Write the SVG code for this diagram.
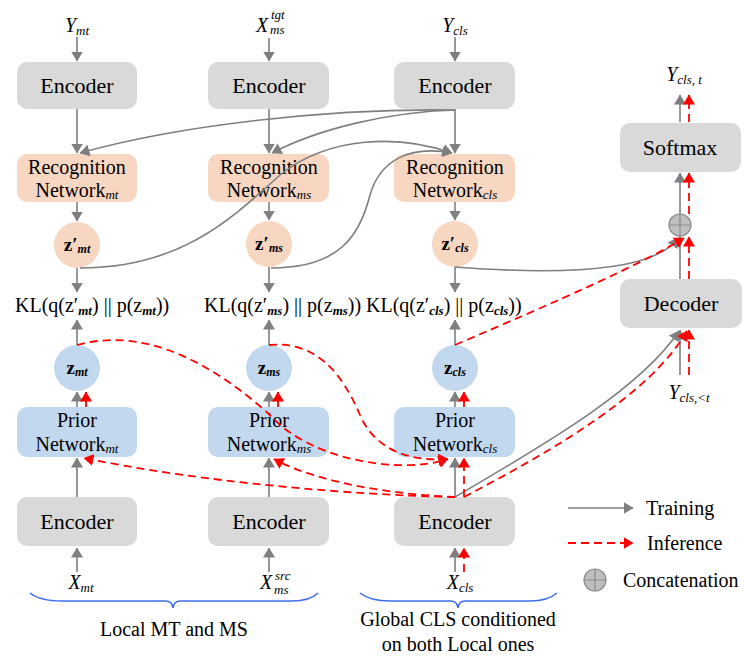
<svg xmlns="http://www.w3.org/2000/svg" width="744" height="657" viewBox="0 0 744 657">
<defs>
<marker id="ag" viewBox="0 0 10 12" refX="9.5" refY="6" markerWidth="10" markerHeight="12" markerUnits="userSpaceOnUse" orient="auto"><path d="M0,0 L10,6 L0,12 z" fill="#7f7f7f"/></marker>
<marker id="ar" viewBox="0 0 10 12" refX="9.5" refY="6" markerWidth="10" markerHeight="12" markerUnits="userSpaceOnUse" orient="auto"><path d="M0,0 L10,6 L0,12 z" fill="#ff0000"/></marker>
</defs>
<rect width="744" height="657" fill="#ffffff"/>

<!-- input labels -->
<text font-family="Times New Roman, Liberation Serif, serif" font-size="20" font-style="italic" x="77" y="32" text-anchor="middle">Y<tspan font-size="13" dy="3">mt</tspan></text>
<text font-family="Times New Roman, Liberation Serif, serif" font-size="20" font-style="italic" x="256" y="32">X<tspan font-size="13" x="271" y="19">tgt</tspan><tspan font-size="13" x="270" y="34">ms</tspan></text>
<text font-family="Times New Roman, Liberation Serif, serif" font-size="20" font-style="italic" x="455" y="32" text-anchor="middle">Y<tspan font-size="13" dy="3">cls</tspan></text>

<!-- top encoders -->
<g id="enc_top_mt"><rect fill="#d9d9d9" x="17" y="62" width="120" height="47" rx="10"/><text font-family="Times New Roman, Liberation Serif, serif" font-size="22" x="77" y="93" text-anchor="middle">Encoder</text></g>
<g id="enc_top_ms"><rect fill="#d9d9d9" x="208" y="62" width="121" height="47" rx="10"/><text font-family="Times New Roman, Liberation Serif, serif" font-size="22" x="269" y="93" text-anchor="middle">Encoder</text></g>
<g id="enc_top_cls"><rect fill="#d9d9d9" x="394" y="62" width="121" height="47" rx="10"/><text font-family="Times New Roman, Liberation Serif, serif" font-size="22" x="455" y="93" text-anchor="middle">Encoder</text></g>

<!-- recognition networks -->
<g id="rec_mt"><rect fill="#f7d6c2" x="17" y="154" width="120" height="48" rx="10"/><text font-family="Times New Roman, Liberation Serif, serif" font-size="20" x="77" y="174" text-anchor="middle">Recognition</text><text font-family="Times New Roman, Liberation Serif, serif" font-size="20" x="77" y="197" text-anchor="middle">Network<tspan font-size="13" font-style="italic" dy="2">mt</tspan></text></g>
<g id="rec_ms"><rect fill="#f7d6c2" x="208" y="154" width="121" height="48" rx="10"/><text font-family="Times New Roman, Liberation Serif, serif" font-size="20" x="269" y="174" text-anchor="middle">Recognition</text><text font-family="Times New Roman, Liberation Serif, serif" font-size="20" x="269" y="197" text-anchor="middle">Network<tspan font-size="13" font-style="italic" dy="2">ms</tspan></text></g>
<g id="rec_cls"><rect fill="#f7d6c2" x="394" y="154" width="121" height="48" rx="10"/><text font-family="Times New Roman, Liberation Serif, serif" font-size="20" x="455" y="174" text-anchor="middle">Recognition</text><text font-family="Times New Roman, Liberation Serif, serif" font-size="20" x="455" y="197" text-anchor="middle">Network<tspan font-size="13" font-style="italic" dy="2">cls</tspan></text></g>

<!-- z' circles -->
<g id="zp_mt"><circle cx="77" cy="245" r="23" fill="#f7d6c2"/><text font-family="Times New Roman, Liberation Serif, serif" font-size="19" font-weight="bold" x="77" y="251" text-anchor="middle">z′<tspan font-size="12" font-style="italic" dy="2">mt</tspan></text></g>
<g id="zp_ms"><circle cx="269" cy="244" r="23" fill="#f7d6c2"/><text font-family="Times New Roman, Liberation Serif, serif" font-size="19" font-weight="bold" x="269" y="250" text-anchor="middle">z′<tspan font-size="12" font-style="italic" dy="2">ms</tspan></text></g>
<g id="zp_cls"><circle cx="455" cy="244" r="23" fill="#f7d6c2"/><text font-family="Times New Roman, Liberation Serif, serif" font-size="19" font-weight="bold" x="455" y="250" text-anchor="middle">z′<tspan font-size="12" font-style="italic" dy="2">cls</tspan></text></g>

<!-- KL terms -->
<g id="kl_mt"><text font-family="Times New Roman, Liberation Serif, serif" font-size="20" x="15" y="312">KL(q(z′<tspan font-size="13" font-style="italic" font-weight="bold" dy="3">mt</tspan><tspan dy="-3">) || p(z</tspan><tspan font-size="13" font-style="italic" font-weight="bold" dy="3">mt</tspan><tspan dy="-3">))</tspan></text></g>
<g id="kl_ms"><text font-family="Times New Roman, Liberation Serif, serif" font-size="20" x="204" y="312">KL(q(z′<tspan font-size="13" font-style="italic" font-weight="bold" dy="3">ms</tspan><tspan dy="-3">) || p(z</tspan><tspan font-size="13" font-style="italic" font-weight="bold" dy="3">ms</tspan><tspan dy="-3">))</tspan></text></g>
<g id="kl_cls"><text font-family="Times New Roman, Liberation Serif, serif" font-size="20" x="366" y="312">KL(q(z′<tspan font-size="13" font-style="italic" font-weight="bold" dy="3">cls</tspan><tspan dy="-3">) || p(z</tspan><tspan font-size="13" font-style="italic" font-weight="bold" dy="3">cls</tspan><tspan dy="-3">))</tspan></text></g>

<!-- z circles -->
<g id="z_mt"><circle cx="77" cy="368" r="23" fill="#c2d8ee"/><text font-family="Times New Roman, Liberation Serif, serif" font-size="19" font-weight="bold" x="77" y="374" text-anchor="middle">z<tspan font-size="12" font-style="italic" dy="2">mt</tspan></text></g>
<g id="z_ms"><circle cx="269" cy="368" r="23" fill="#c2d8ee"/><text font-family="Times New Roman, Liberation Serif, serif" font-size="19" font-weight="bold" x="269" y="374" text-anchor="middle">z<tspan font-size="12" font-style="italic" dy="2">ms</tspan></text></g>
<g id="z_cls"><circle cx="455" cy="368" r="23" fill="#c2d8ee"/><text font-family="Times New Roman, Liberation Serif, serif" font-size="19" font-weight="bold" x="455" y="374" text-anchor="middle">z<tspan font-size="12" font-style="italic" dy="2">cls</tspan></text></g>

<!-- prior networks -->
<g id="prior_mt"><rect fill="#c2d8ee" x="17" y="407" width="120" height="50" rx="10"/><text font-family="Times New Roman, Liberation Serif, serif" font-size="20" x="77" y="427" text-anchor="middle">Prior</text><text font-family="Times New Roman, Liberation Serif, serif" font-size="20" x="77" y="451" text-anchor="middle">Network<tspan font-size="13" font-style="italic" dy="2">mt</tspan></text></g>
<g id="prior_ms"><rect fill="#c2d8ee" x="208" y="407" width="121" height="50" rx="10"/><text font-family="Times New Roman, Liberation Serif, serif" font-size="20" x="269" y="427" text-anchor="middle">Prior</text><text font-family="Times New Roman, Liberation Serif, serif" font-size="20" x="269" y="451" text-anchor="middle">Network<tspan font-size="13" font-style="italic" dy="2">ms</tspan></text></g>
<g id="prior_cls"><rect fill="#c2d8ee" x="394" y="407" width="121" height="50" rx="10"/><text font-family="Times New Roman, Liberation Serif, serif" font-size="20" x="455" y="427" text-anchor="middle">Prior</text><text font-family="Times New Roman, Liberation Serif, serif" font-size="20" x="455" y="451" text-anchor="middle">Network<tspan font-size="13" font-style="italic" dy="2">cls</tspan></text></g>

<!-- bottom encoders -->
<g id="enc_bot_mt"><rect fill="#d9d9d9" x="17" y="497" width="120" height="49" rx="10"/><text font-family="Times New Roman, Liberation Serif, serif" font-size="22" x="77" y="529" text-anchor="middle">Encoder</text></g>
<g id="enc_bot_ms"><rect fill="#d9d9d9" x="208" y="497" width="121" height="49" rx="10"/><text font-family="Times New Roman, Liberation Serif, serif" font-size="22" x="269" y="529" text-anchor="middle">Encoder</text></g>
<g id="enc_bot_cls"><rect fill="#d9d9d9" x="394" y="497" width="121" height="49" rx="10"/><text font-family="Times New Roman, Liberation Serif, serif" font-size="22" x="455" y="529" text-anchor="middle">Encoder</text></g>

<!-- bottom input labels -->
<text font-family="Times New Roman, Liberation Serif, serif" font-size="20" font-style="italic" x="81" y="589" text-anchor="middle">X<tspan font-size="13" dy="3">mt</tspan></text>
<text font-family="Times New Roman, Liberation Serif, serif" font-size="20" font-style="italic" x="260" y="589">X<tspan font-size="13" x="275" y="580">src</tspan><tspan font-size="13" x="274" y="594">ms</tspan></text>
<text font-family="Times New Roman, Liberation Serif, serif" font-size="20" font-style="italic" x="460" y="589" text-anchor="middle">X<tspan font-size="13" dy="3">cls</tspan></text>

<!-- right column -->
<text font-family="Times New Roman, Liberation Serif, serif" font-size="20" font-style="italic" x="684" y="81" text-anchor="middle">Y<tspan font-size="13" dy="3">cls, t</tspan></text>
<g id="softmax"><rect fill="#d9d9d9" x="620" y="123" width="121" height="49" rx="10"/><text font-family="Times New Roman, Liberation Serif, serif" font-size="22" x="680" y="155" text-anchor="middle">Softmax</text></g>
<g id="concat"><circle cx="680" cy="225" r="11" fill="#bfbfbf" stroke="#8c8c8c" stroke-width="1.2"/><path d="M669,225 H691 M680,214 V236" stroke="#8c8c8c" stroke-width="1.2"/></g>
<g id="decoder"><rect fill="#d9d9d9" x="620" y="279" width="122" height="49" rx="10"/><text font-family="Times New Roman, Liberation Serif, serif" font-size="22" x="681" y="311" text-anchor="middle">Decoder</text></g>
<text font-family="Times New Roman, Liberation Serif, serif" font-size="20" font-style="italic" x="689" y="399" text-anchor="middle">Y<tspan font-size="13" dy="3">cls,&lt;t</tspan></text>

<!-- connectors -->
<g id="connectors">
<g fill="none" stroke="#7f7f7f" stroke-width="1.6" marker-end="url(#ag)">
<line x1="77" y1="37" x2="77" y2="61"/>
<line x1="269" y1="38" x2="269" y2="61"/>
<line x1="455" y1="37" x2="455" y2="61"/>
<line x1="77" y1="109" x2="77" y2="153"/>
<line x1="269" y1="109" x2="269" y2="153"/>
<line x1="455" y1="109" x2="455" y2="153"/>
<path d="M455,110 C330,108 180,125 80,153"/>
<path d="M455,110 C390,112 320,128 272,153"/>
<path d="M80,268 C180,268 230,220 280,175 C330,135 400,135 452,153"/>
<path d="M271,268 C340,268 360,235 370,195 C380,160 410,145 452,153"/>
<line x1="77" y1="202" x2="77" y2="221"/>
<line x1="269" y1="202" x2="269" y2="220"/>
<line x1="455" y1="202" x2="455" y2="220"/>
<line x1="77" y1="268" x2="77" y2="292"/>
<line x1="269" y1="267" x2="269" y2="292"/>
<line x1="455" y1="267" x2="455" y2="292"/>
<line x1="77" y1="345" x2="77" y2="320"/>
<line x1="269" y1="345" x2="269" y2="320"/>
<line x1="455" y1="345" x2="455" y2="320"/>
<line x1="77" y1="407" x2="77" y2="392"/>
<line x1="269" y1="407" x2="269" y2="392"/>
<line x1="455" y1="407" x2="455" y2="392"/>
<line x1="77" y1="497" x2="77" y2="458"/>
<line x1="269" y1="497" x2="269" y2="458"/>
<line x1="455" y1="497" x2="455" y2="458"/>
<line x1="77" y1="572" x2="77" y2="548"/>
<line x1="269" y1="572" x2="269" y2="548"/>
<line x1="455" y1="572" x2="455" y2="548"/>
<path d="M455,497 C540,447 640,390 679,331"/>
<path d="M455,267 C560,275 655,272 678,238"/>
<line x1="680" y1="375" x2="680" y2="330"/>
<line x1="680" y1="214" x2="680" y2="173"/>
<line x1="680" y1="122" x2="680" y2="95"/>
</g>
<line x1="680" y1="279" x2="680" y2="236" stroke="#7f7f7f" stroke-width="1.6"/>
<g fill="none" stroke="#ff0000" stroke-width="1.8" stroke-dasharray="8 5" marker-end="url(#ar)">
<line x1="86" y1="407" x2="86" y2="392"/>
<line x1="278" y1="407" x2="278" y2="392"/>
<line x1="464" y1="407" x2="464" y2="392"/>
<line x1="464" y1="497" x2="464" y2="458"/>
<line x1="464" y1="572" x2="464" y2="548"/>
<path d="M455,497 C350,495 200,482 84,458"/>
<path d="M455,497 C400,495 320,484 274,459"/>
<path d="M77,345 C150,325 220,370 270,415 C310,460 400,475 448,459"/>
<path d="M269,345 C320,340 345,380 360,415 C375,450 410,462 448,459"/>
<path d="M464,497 C550,452 650,395 687,331"/>
<path d="M455,345 C560,300 640,265 684,238"/>
<line x1="689" y1="375" x2="689" y2="330"/>
<line x1="689" y1="279" x2="689" y2="237"/>
<line x1="689" y1="214" x2="689" y2="173"/>
<line x1="689" y1="122" x2="689" y2="95"/>
</g>
</g>

<!-- braces -->
<path d="M30,593 Q40,601 62,601 L166,601 Q172,601 173,608 Q174,601 180,601 L292,601 Q310,601 318,593" fill="none" stroke="#3d6fe8" stroke-width="1.6"/>
<text font-family="Times New Roman, Liberation Serif, serif" font-size="20" x="174" y="636" text-anchor="middle">Local MT and MS</text>
<path d="M360,593 Q370,601 390,601 L451,601 Q457,601 458,608 Q459,601 465,601 L530,601 Q548,601 557,593" fill="none" stroke="#3d6fe8" stroke-width="1.6"/>
<text font-family="Times New Roman, Liberation Serif, serif" font-size="20" x="458" y="626" text-anchor="middle">Global CLS conditioned</text>
<text font-family="Times New Roman, Liberation Serif, serif" font-size="20" x="458" y="651" text-anchor="middle">on both Local ones</text>

<!-- legend -->
<g id="legend">
<line x1="568" y1="508" x2="633" y2="508" stroke="#7f7f7f" stroke-width="1.6" marker-end="url(#ag)"/>
<text font-family="Times New Roman, Liberation Serif, serif" font-size="20" x="646" y="515">Training</text>
<line x1="568" y1="543" x2="633" y2="543" stroke="#ff0000" stroke-width="1.8" stroke-dasharray="8 5" marker-end="url(#ar)"/>
<text font-family="Times New Roman, Liberation Serif, serif" font-size="20" x="647" y="550">Inference</text>
<circle cx="595" cy="580" r="11" fill="#bfbfbf" stroke="#8c8c8c" stroke-width="1.2"/>
<path d="M584,580 H606 M595,569 V591" stroke="#8c8c8c" stroke-width="1.2"/>
<text font-family="Times New Roman, Liberation Serif, serif" font-size="20" x="623" y="587">Concatenation</text>
</g>
</svg>
